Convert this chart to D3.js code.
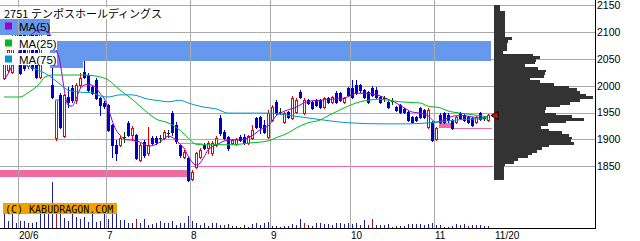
<!DOCTYPE html>
<html>
<head>
<meta charset="utf-8">
<script src="https://cdn.jsdelivr.net/npm/d3@7"></script>
<style>
  body { margin: 0; background: #fff; }
  text { font-family: "Liberation Sans", Arial, sans-serif; }
</style>
</head>
<body>
<div id="wrapper"></div>
<script>
// 2751 daily candles, 2020/5/26 .. 2020/11/20 (one entry per trading day)
const open = [
  2014,2029,2026,2076,2113,2104,2037,2108,2113,2016,
  2123,2104,2001,1903,1983,1906,1979,1996,1973,2001,
  2026,2020,1998,2011,1977,1968,1964,1927,1890,1890,
  1904,1931,1908,1908,1862,1895,1875,1903,1903,1903,
  1903,1912,1949,1927,1890,1867,1865,1826,1849,1867,
  1890,1884,1875,1890,1940,1914,1904,1893,1891,1904,
  1904,1893,1903,1940,1942,1927,1904,1936,1970,1951,
  1932,1951,1940,1951,1988,1949,1973,1970,1973,1973,
  1960,1977,1970,1986,1986,1970,1996,1996,2001,2001,
  1992,1988,1996,1992,1979,1977,1970,1972,1960,1964,
  1957,1951,1942,1942,1959,1955,1923,1932,1901,1945,
  1949,1945,1936,1932,1949,1945,1942,1940,1932,1949,
  1940,1936]
const high = [
  2052,2076,2095,2123,2123,2113,2123,2119,2126,2126,
  2126,2119,2080,1975,1986,1985,1998,2001,2005,2024,
  2048,2024,2000,2014,1979,1972,1966,1929,1899,1906,
  1914,1934,1925,1910,1893,1899,1923,1906,1906,1908,
  1918,1918,1953,1932,1893,1880,1867,1843,1876,1884,
  1893,1897,1897,1906,1945,1918,1906,1901,1903,1908,
  1910,1908,1927,1942,1944,1936,1955,1964,1973,1959,
  1951,1953,1981,1977,1992,1977,1975,1972,1975,1975,
  1979,1979,1981,1990,1988,1979,1998,2011,2011,2003,
  1994,1990,2000,1998,1981,1981,1972,1977,1962,1966,
  1959,1955,1944,1944,1960,1957,1959,1934,1923,1949,
  1951,1949,1938,1944,1951,1947,1944,1942,1944,1951,
  1944,1947]
const low = [
  2013,2026,2024,2070,2022,2029,2033,2029,2014,2014,
  2100,2085,1977,1899,1921,1904,1960,1970,1968,1998,
  2014,1990,1985,1975,1945,1959,1916,1867,1862,1888,
  1895,1906,1899,1863,1860,1867,1871,1891,1891,1895,
  1901,1904,1908,1893,1867,1865,1822,1824,1847,1865,
  1882,1875,1871,1888,1908,1901,1880,1891,1890,1897,
  1891,1891,1901,1921,1912,1912,1903,1934,1947,1947,
  1931,1940,1938,1949,1977,1947,1966,1957,1962,1959,
  1959,1968,1968,1968,1972,1968,1981,1977,1985,1988,
  1977,1968,1981,1977,1968,1972,1959,1966,1953,1949,
  1949,1934,1931,1934,1940,1940,1921,1897,1899,1931,
  1931,1932,1919,1931,1938,1934,1931,1925,1931,1936,
  1936,1934]
const close = [
  2044,2067,2085,2113,2024,2033,2108,2033,2016,2123,
  2104,2095,1979,1973,1923,1983,1970,1973,2001,2014,
  2016,1992,1986,1977,1964,1962,1918,1890,1875,1903,
  1904,1908,1921,1865,1890,1871,1890,1893,1895,1903,
  1914,1912,1914,1897,1871,1876,1824,1839,1875,1880,
  1884,1893,1893,1903,1912,1903,1884,1899,1901,1899,
  1893,1906,1918,1923,1923,1914,1949,1960,1949,1951,
  1949,1942,1977,1973,1979,1973,1968,1959,1964,1960,
  1977,1970,1979,1970,1973,1977,1983,1979,1986,1992,
  1979,1970,1983,1979,1970,1977,1960,1972,1955,1951,
  1951,1936,1932,1936,1942,1942,1955,1899,1921,1932,
  1932,1936,1921,1942,1940,1936,1932,1927,1942,1938,
  1940,1945]
// volume, thousand shares
const volume = [
  73,37,73,27,35,35,27,27,32,73,
  73,73,228,73,73,48,35,73,57,43,
  57,32,73,32,37,93,43,73,73,40,
  40,27,23,43,23,43,15,20,23,35,
  27,27,35,15,27,27,60,35,27,15,
  23,10,27,27,15,15,18,10,10,7,
  15,7,20,23,15,27,32,10,10,7,
  10,10,20,15,43,23,15,10,23,27,
  20,20,15,23,27,20,23,20,27,15,
  40,15,45,15,15,15,20,7,10,10,
  10,20,20,20,20,15,20,27,15,15,
  7,7,10,20,15,20,10,15,15,15,
  10,10]
const volumeRedDays = [13, 33, 55, 75, 92, 116]

// moving averages (day index, price)
const ma5Idx = [0,1,2,4,6,9,11,
  13,14,15,16,17,18,19,20,21,22,23,24,25,26,27,28,29,30,31,32,33,34,35,36,37,38,39,40,
  41,42,43,44,45,46,47,48,49,50,51,52,53,54,55,
  57,59,61,63,64,65,66,67,68,69,71,73,75,77,79,82,85,87,88,90,92,94,96,98,
  100,102,104,106,108,109,111,113,115,117,119,121]
const ma5 = [2011,2022,2037,2067,2089,2104,2100,
  2069,2044,1996,1964,1962,1975,1994,2001,2003,2001,1996,1986,1977,1959,1936,1918,1908,1901,1899,1899,1897,1895,1891,1888,1888,1891,1895,1901,
  1906,1904,1899,1891,1884,1869,1858,1852,1856,1867,1880,1886,1890,1893,1897,
  1899,1899,1903,1912,1918,1921,1925,1934,1944,1949,1955,1960,1968,1972,1973,1975,1977,1983,1986,1986,1985,1981,1975,1968,
  1959,1951,1949,1944,1932,1934,1940,1944,1944,1942,1940,1942]
const ma25Idx = [0,4,6,9,10,12,20,23,26,29,32,36,38,41,44,46,48,50,57,61,66,68,71,73,76,79,81,84,86,89,91,94,96,99,104,106,109,111,114,116,119,121]
const ma25 = [1979,1979,1987,2005,2015,2020,2020,2018,2011,1992,1975,1949,1938,1931,1917,1903,1891,1890,1890,1893,1897,1903,1912,1921,1931,1936,1944,1955,1962,1970,1973,1975,1973,1970,1968,1962,1959,1953,1949,1947,1944,1942]
const ma75Idx = [0,4,8,11,14,16,19,22,24,26,29,32,36,39,41,44,46,50,53,56,66,70,74,78,82,86,94,101,108,113,117,121]
const ma75 = [2048,2041,2031,2020,2003,1992,1988,1987,1981,1979,1983,1983,1975,1972,1970,1973,1968,1960,1957,1949,1949,1946,1942,1938,1934,1931,1929,1929,1932,1936,1938,1938]

const priceTicks = [1850, 1900, 1950, 2000, 2050, 2100, 2150]
const monthStart = [4, 26, 47, 67, 87, 108]
const monthLabels = ["20/6", "7", "8", "9", "10", "11"]
const lastLabel = "11/20"

// price-by-volume, 5 yen bins from 2145 down to 1825
const profileLow = d3.range(2145, 1820, -5)
const profileVol = [
  6,6,11,11,11,11,11,11,11,11,11,11,18,14,13,13,13,9,
  39,46,42,41,31,44,52,51,50,36,46,60,75,83,86,92,99,86,76,66,
  52,51,62,78,90,72,54,47,55,68,75,78,77,80,55,48,43,38,34,24,20,
  11,10,10,10,10,10]

// zones: [fromDay, toDay, lowPrice, highPrice]
const blueZones = [[-1, 11.5, 2095, 2127], [11.5, 121.75, 2046, 2083], [11.5, 19.75, 2033, 2046]]
const paleZones = [[12.75, 13.75, 1972, 1975], [43.5, 49.5, 1892, 1893]]
const pinkZones = [[-1, 45.75, 1830, 1843], [108.75, 112, 1921, 1931]]
const pinkLines = [[47.25, 122, 1850], [112, 122, 1921]]

const title = "2751 テンポスホールディングス"
const legend = [["MA(5)", "#9900cc"], ["MA(25)", "#00bb22"], ["MA(75)", "#0099cc"]]

// ---- drawing
const width = 640, height = 241
const right = 595, bottom = 228

const x = d3.scaleLinear().domain([0, 121]).range([4, 488])
const y = d3.scaleLinear().domain([1850, 2150]).range([166.2, 5.3])
const volY = d3.scaleLinear().domain([0, d3.max(volume)]).range([bottom, 182.3])
const profW = d3.scaleLinear().domain([0, d3.max(profileVol)]).range([0, 99])
const py = p => Math.round(y(p))

const svg = d3.select("#wrapper").append("svg")
    .attr("width", width)
    .attr("height", height)
    .style("display", "block")

svg.append("rect").attr("width", width).attr("height", height).attr("fill", "#fff")

// horizontal grid
svg.append("g").selectAll("line").data(priceTicks).join("line")
    .attr("x1", 0).attr("x2", right)
    .attr("y1", d => py(d) + 0.5).attr("y2", d => py(d) + 0.5)
    .attr("stroke", "#aaa")

// volume profile
svg.append("g").selectAll("rect").data(profileLow).join("rect")
    .attr("x", 494)
    .attr("y", d => py(d + 5))
    .attr("width", (d, i) => Math.round(profW(profileVol[i])))
    .attr("height", d => py(d) - py(d + 5))
    .attr("fill", "#333")

// pink zones
const pink = "#ee6aa0"
svg.append("g").selectAll("rect").data(pinkZones).join("rect")
    .attr("x", d => x(d[0])).attr("width", d => x(d[1]) - x(d[0]))
    .attr("y", d => py(d[3])).attr("height", d => py(d[2]) - py(d[3]))
    .attr("fill", pink)
svg.append("g").selectAll("rect").data(pinkLines).join("rect")
    .attr("x", d => x(d[0])).attr("width", d => x(d[1]) - x(d[0]))
    .attr("y", d => py(d[2])).attr("height", 1)
    .attr("fill", pink)

// volume bars
svg.append("g").selectAll("rect").data(volume).join("rect")
    .attr("x", (d, i) => Math.round(x(i)))
    .attr("width", 1)
    .attr("y", d => Math.round(volY(d)))
    .attr("height", d => bottom - Math.round(volY(d)))
    .attr("fill", (d, i) => volumeRedDays.includes(i) ? "#a01818" : "#1e1e96")

// candles
const candles = close.map((c, i) => ({i, o: open[i], h: high[i], l: low[i], c}))
const candleColor = d => d.c > d.o ? "#ee0000" : d.c < d.o ? "#0000c8" : "#003a00"
const cg = svg.append("g")
candles.forEach(d => {
    const cx = Math.round(x(d.i))
    const col = candleColor(d)
    cg.append("rect")
        .attr("x", cx).attr("width", 1)
        .attr("y", py(d.h)).attr("height", Math.max(1, py(d.l) - py(d.h) + 1))
        .attr("fill", col)
    const yo = py(d.o), yc = py(d.c)
    if (d.c < d.o) {
        cg.append("rect")
            .attr("x", cx - 1).attr("width", 3)
            .attr("y", yo).attr("height", Math.max(1, yc - yo + 1))
            .attr("fill", col)
    } else if (d.c > d.o) {
        cg.append("rect")
            .attr("x", cx - 0.5).attr("width", 2)
            .attr("y", yc + 0.5).attr("height", Math.max(1, yo - yc))
            .attr("fill", "#fff").attr("stroke", col)
    } else {
        cg.append("rect")
            .attr("x", cx - 1).attr("width", 3)
            .attr("y", yc).attr("height", 1)
            .attr("fill", col)
    }
})

// pale blue marks
svg.append("g").selectAll("rect").data(paleZones).join("rect")
    .attr("x", d => x(d[0])).attr("width", d => x(d[1]) - x(d[0]))
    .attr("y", d => py(d[3])).attr("height", d => Math.max(1, py(d[2]) - py(d[3])))
    .attr("fill", "#80a8f0")

// blue zones
svg.append("g").selectAll("rect").data(blueZones).join("rect")
    .attr("x", d => x(d[0])).attr("width", d => x(d[1]) - x(d[0]))
    .attr("y", d => py(d[3])).attr("height", d => py(d[2]) - py(d[3]))
    .attr("fill", "#6699ee")

// vertical grid (month starts)
svg.append("g").selectAll("line").data(monthStart).join("line")
    .attr("x1", d => x(d) - 2 + 0.5).attr("x2", d => x(d) - 2 + 0.5)
    .attr("y1", 0).attr("y2", bottom)
    .attr("stroke", "#aaa")

// moving averages
const maLine = d3.line()
    .x(d => x(d[0]))
    .y(d => y(d[1]))
    .curve(d3.curveMonotoneX)
const maSets = [[ma5Idx, ma5], [ma25Idx, ma25], [ma75Idx, ma75]]
maSets.forEach(([idx, vals], k) => {
    svg.append("path")
        .datum(idx.map((d, i) => [d, vals[i]]))
        .attr("d", maLine)
        .attr("fill", "none")
        .attr("stroke", legend[k][1])
        .attr("stroke-width", 1)
})

// title + legend
svg.append("rect").attr("x", 0).attr("y", 7).attr("width", 164).attr("height", 12).attr("fill", "#fff")
svg.append("text")
    .attr("x", 4).attr("y", 17.5)
    .style("font-family", "'Noto Sans CJK JP', sans-serif")
    .style("font-size", "11px")
    .text(title)

svg.append("rect").attr("x", 0).attr("y", 36).attr("width", 57).attr("height", 14).attr("fill", "#fff")
svg.append("rect").attr("x", 0).attr("y", 53).attr("width", 57).attr("height", 12).attr("fill", "#fff")
const rowY = [22.5, 39.5, 55.5]
legend.forEach(([label, col], i) => {
    svg.append("rect").attr("x", 5).attr("y", rowY[i]).attr("width", 7).attr("height", 7).attr("fill", col)
    svg.append("text")
        .attr("x", 19).attr("y", rowY[i] + 8.5)
        .style("font-size", "11.5px")
        .text(label)
})

// copyright badge
svg.append("rect").attr("x", 3).attr("y", 203).attr("width", 114).attr("height", 11).attr("fill", "#f2a200")
svg.append("text")
    .attr("x", 5).attr("y", 212.5)
    .style("font-family", "'DejaVu Sans Mono', monospace")
    .style("font-size", "10px")
    .text("(C) KABUDRAGON.COM")

// frame
svg.append("line").attr("x1", right + 0.5).attr("x2", right + 0.5).attr("y1", 0).attr("y2", bottom + 1).attr("stroke", "#000")
svg.append("line").attr("x1", 0).attr("x2", right + 1).attr("y1", bottom + 0.5).attr("y2", bottom + 0.5).attr("stroke", "#000")

// price axis
const yAxis = svg.append("g")
    .attr("transform", `translate(${right},0)`)
    .call(d3.axisRight(y).tickValues(priceTicks).tickSize(0).tickPadding(2).tickFormat(d3.format("d")))
yAxis.select(".domain").remove()
yAxis.selectAll("text")
    .style("font-family", "'Liberation Sans', Arial, sans-serif")
    .style("font-size", "10.5px")
    .attr("fill", "#000")

// date labels
svg.append("g").selectAll("text").data(monthStart).join("text")
    .attr("x", d => x(d) - 1)
    .attr("y", 238.5)
    .style("font-size", "10px")
    .text((d, i) => monthLabels[i])
svg.append("text")
    .attr("x", x(121) + 7).attr("y", 238.5)
    .style("font-size", "10px")
    .text(lastLabel)

// last price marker
const ly = py(close[close.length - 1])
const lx = x(close.length - 1) + 3
svg.append("path")
    .attr("d", `M${lx},${ly + 0.5}L${lx + 7},${ly - 3.5}L${lx + 7},${ly + 4.5}Z`)
    .attr("fill", "#ee0000")
    .attr("stroke", "#000")
    .attr("stroke-width", 1)
</script>
</body>
</html>
